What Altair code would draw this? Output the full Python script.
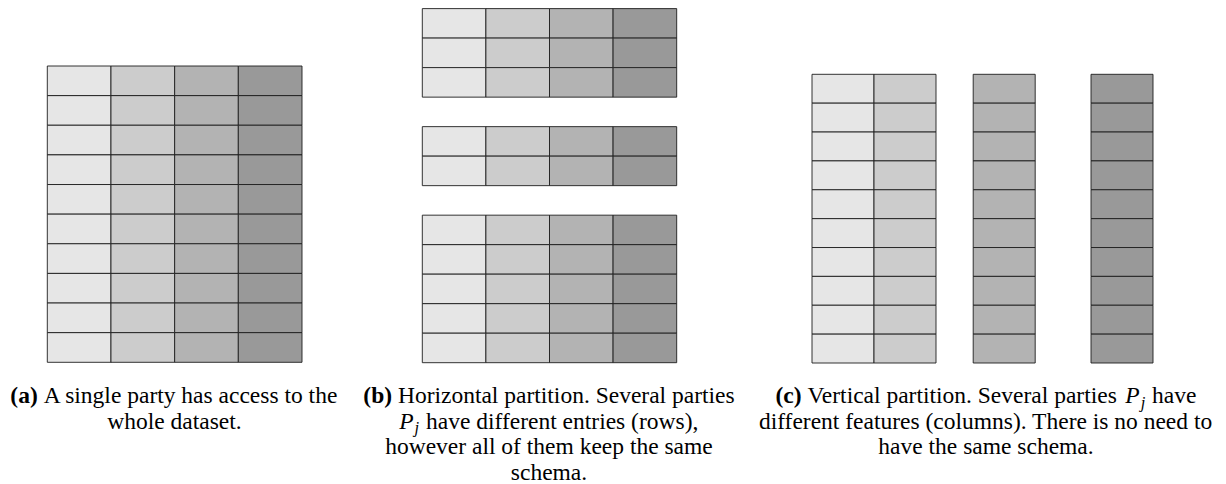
import altair as alt
import pandas as pd

# ---------------- data (structure of the three diagrams) ----------------
features = ["F1", "F2", "F3", "F4"]
shades = ["#e6e6e6", "#cccccc", "#b3b3b3", "#999999"]
rows_a = 10                      # (a) whole dataset: 10 entries
blocks_b = [3, 2, 5]             # (b) horizontal partition: rows per party
groups_c = [["F1", "F2"], ["F3"], ["F4"]]   # (c) vertical partition: columns per party
rows_c = 10

caption_a = [[("b", "(a)"), ("n", " A single party has access to the")],
             [("n", "whole dataset.")]]
caption_b = [[("b", "(b)"), ("n", " Horizontal partition. Several parties")],
             [("i", "P"), ("s", "j"), ("n", " have different entries (rows),")],
             [("n", "however all of them keep the same")],
             [("n", "schema.")]]
caption_c = [[("b", "(c)"), ("n", " Vertical partition. Several parties "), ("i", "P"), ("s", "j"), ("n", " have")],
             [("n", "different features (columns). There is no need to")],
             [("n", "have the same schema.")]]

# ---------------- layout ----------------
OX, OY = 8, 8           # chart origin on the page (page margin)
FS = 23.5
SUB = 0.7
FONT = "Liberation Serif"

def px(v):
    return v - OX

def py(v):
    return v - OY

# cells
cells_a = []
for r in range(rows_a):
    for ci, f in enumerate(features):
        cells_a.append(dict(x=ci, x2=ci + 1, y=r, y2=r + 1, feature=f))

cells_b = []
off = 0
for n in blocks_b:
    for r in range(n):
        for ci, f in enumerate(features):
            cells_b.append(dict(x=ci, x2=ci + 1, y=off + r, y2=off + r + 1, feature=f))
    off += n + 1
b_units = off - 1

gaps_c = [0.6, 0.9]
cells_c = []
xpos = 0.0
for gi, g in enumerate(groups_c):
    for f in g:
        for r in range(rows_c):
            cells_c.append(dict(x=xpos, x2=xpos + 1, y=r, y2=r + 1, feature=f))
        xpos += 1
    if gi < len(gaps_c):
        xpos += gaps_c[gi]
c_units = xpos


def rect_layer(cells, xdom, xr, ydom, yr):
    return alt.Chart(pd.DataFrame(cells)).mark_rect(stroke="#1e1e1e", strokeWidth=0.9).encode(
        x=alt.X("x:Q", scale=alt.Scale(domain=xdom, range=xr, nice=False, zero=False), axis=None),
        x2="x2:Q",
        y=alt.Y("y:Q", scale=alt.Scale(domain=ydom, range=yr, nice=False, zero=False), axis=None),
        y2="y2:Q",
        color=alt.Color("feature:N", scale=alt.Scale(domain=features, range=shades), legend=None),
    )

layer_a = rect_layer(cells_a, [0, 4], [px(47.3), px(302)], [0, rows_a], [py(66), py(362.3)])
layer_b = rect_layer(cells_b, [0, 4], [px(422.3), px(676.7)], [0, b_units], [py(8.6), py(362.7)])
layer_c = rect_layer(cells_c, [0, c_units], [px(812), px(1153)], [0, rows_c], [py(74.3), py(363)])

# ---------------- captions ----------------
TR = {' ': 250, '(': 333, ')': 333, '.': 250, ',': 250,
      'A': 722, 'H': 722, 'P': 556, 'S': 556, 'T': 611, 'V': 722,
      'a': 444, 'b': 500, 'c': 444, 'd': 500, 'e': 444, 'f': 333, 'g': 500, 'h': 500,
      'i': 278, 'j': 278, 'k': 500, 'l': 278, 'm': 778, 'n': 500, 'o': 500, 'p': 500,
      'r': 333, 's': 389, 't': 278, 'u': 500, 'v': 500, 'w': 722, 'x': 500, 'y': 500, 'z': 444}
TB = {'(': 333, ')': 333, 'a': 500, 'b': 556, 'c': 444}
TI = {'P': 611, 'j': 278}


def width(style, s):
    if style == "b":
        return sum(TB.get(c, 500) for c in s) / 1000 * FS
    if style == "i":
        return sum(TI.get(c, 500) for c in s) / 1000 * FS
    if style == "s":
        return sum(TI.get(c, 500) for c in s) / 1000 * FS * SUB + 2.0
    return sum(TR.get(c, 500) for c in s) / 1000 * FS


baselines = [403, 428.7, 454.3, 480]
pieces = {"n": [], "b": [], "i": [], "s": []}
for lines, center in [(caption_a, 174.5), (caption_b, 549), (caption_c, 986)]:
    for li, line in enumerate(lines):
        total = sum(width(st, t) for st, t in line)
        x = center - total / 2
        for st, t in line:
            lead = len(t) - len(t.lstrip(" "))
            xs = x + lead * TR[' '] / 1000 * FS + (1.0 if st == "s" else 0)
            yb = baselines[li] + (4.5 if st == "s" else 0)
            pieces[st].append(dict(text=t.strip(" "), px=px(xs), py=py(yb)))
            x += width(st, t)


def text_layer(rows, **kw):
    return alt.Chart(pd.DataFrame(rows)).mark_text(
        align="left", baseline="alphabetic", font=FONT, color="#000000", **kw
    ).encode(
        x=alt.X("px:Q", scale=None),
        y=alt.Y("py:Q", scale=None),
        text="text:N",
    )

t_n = text_layer(pieces["n"], fontSize=FS)
t_b = text_layer(pieces["b"], fontSize=FS, fontWeight="bold")
t_i = text_layer(pieces["i"], fontSize=FS, fontStyle="italic")
t_s = text_layer(pieces["s"], fontSize=FS * SUB, fontStyle="italic")

chart = alt.layer(layer_a, layer_b, layer_c, t_n, t_b, t_i, t_s).resolve_scale(
    x="independent", y="independent"
).properties(
    width=1210, height=476,
    autosize=alt.AutoSizeParams(type="none"),
    padding=0,
    background="white",
).configure_view(stroke=None)

chart.save("out.html", embed_options={"renderer": "svg", "actions": False})
